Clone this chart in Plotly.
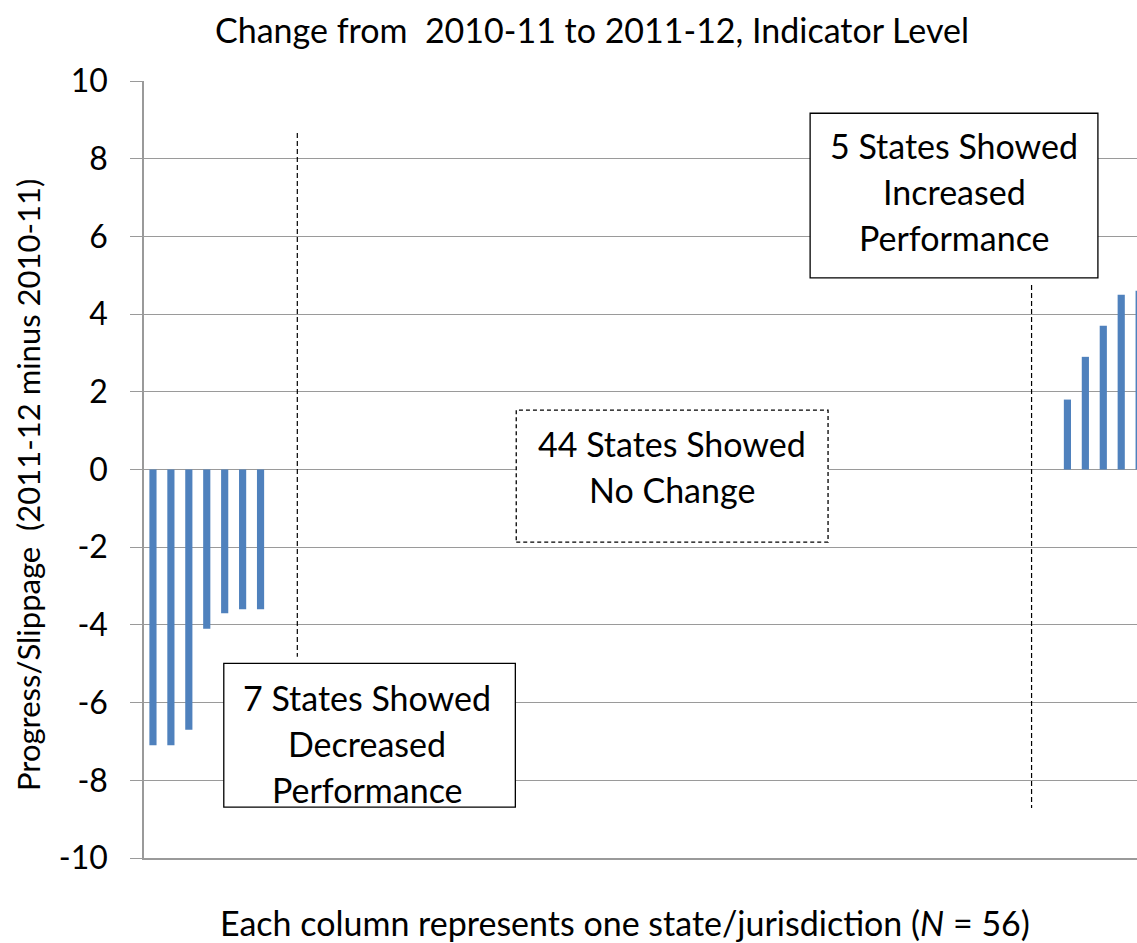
import plotly.graph_objects as go

# values (one column per state/jurisdiction, N = 56)
decreased = [-7.1, -7.1, -6.7, -4.1, -3.7, -3.6, -3.6]
no_change = [0] * 44
increased = [1.8, 2.9, 3.7, 4.5, 4.6]

values = decreased + no_change + increased
columns = list(range(len(values)))

y_tick_vals = [-10, -8, -6, -4, -2, 0, 2, 4, 6, 8, 10]
y_tick_labels = ["-10", "-8", "-6", "-4", "-2", "0", "2", "4", "6", "8", "10"]

title_text = "Change from  2010-11 to 2011-12, Indicator Level"
y_title = "Progress/Slippage  (2011-12 minus 2010-11)"
x_title = "Each column represents one state/jurisdiction (<i>N</i> = 56)"

FONT = "Lato, 'Open Sans', sans-serif"
GRID = "#9a9a9a"
BLUE = "#4F81BD"

# plot area in pixels (used to convert paper positions)
L, R, T, B = 144, 1137, 81, 858


def px(x):
    return (x - L) / (R - L)


def py(y):
    return (B - y) / (B - T)


fig = go.Figure()
fig.add_trace(go.Bar(x=columns, y=values, marker_color=BLUE, marker_line_width=0,
                     width=0.4, hoverinfo="y"))

# dashed separators
for x0, y0, y1 in [(8.05, 8.66, -4.82), (49.0, 4.75, -8.71)]:
    fig.add_shape(type="line", xref="x", yref="y", x0=x0, x1=x0, y0=y0, y1=y1,
                  line=dict(color="black", width=1.2, dash="5px,3px"))

# label boxes
boxes = [
    dict(x0=36.65, x1=52.70, y0=4.93, y1=9.17, dash="solid"),
    dict(x0=20.26, x1=37.65, y0=-1.87, y1=1.53, dash="4px,3px"),
    dict(x0=3.95, x1=20.21, y0=-8.69, y1=-4.99, dash="solid"),
]
for b in boxes:
    fig.add_shape(type="rect", xref="x", yref="y", x0=b["x0"], x1=b["x1"],
                  y0=b["y0"], y1=b["y1"], fillcolor="white",
                  line=dict(color="black", width=1.3, dash=b["dash"]), layer="above")

box_text = [
    (44.68, 7.15, ["5 States Showed", "Increased", "Performance"]),
    (28.96, 0.08, ["44 States Showed", "No Change"]),
    (11.95, -7.04, ["7 States Showed", "Decreased", "Performance"]),
]
for cx, cy, lines in box_text:
    n = len(lines)
    for i, line in enumerate(lines):
        fig.add_annotation(x=cx, y=cy, xref="x", yref="y", text=line, showarrow=False,
                           yshift=(((n - 1) / 2) - i) * 46,
                           font=dict(family=FONT, size=34, color="black"))

fig.add_annotation(x=px(28), y=py(485), xref="paper", yref="paper",
                   text=y_title, textangle=-90, showarrow=False,
                   xanchor="center", yanchor="middle",
                   font=dict(family=FONT, size=31, color="black"))
fig.add_annotation(x=px(625), y=py(922), xref="paper", yref="paper",
                   text=x_title, showarrow=False, xanchor="center", yanchor="middle",
                   font=dict(family=FONT, size=34, color="black"))

fig.update_layout(
    width=1137, height=943,
    margin=dict(l=L, r=1137 - R, t=T, b=943 - B),
    plot_bgcolor="white", paper_bgcolor="white",
    showlegend=False,
    font=dict(family=FONT, color="black"),
    title=dict(text=title_text, xref="container", yref="container",
               x=592 / 1137, y=1 - 31 / 943, xanchor="center", yanchor="middle",
               font=dict(family=FONT, size=34, color="black")),
    xaxis=dict(range=[-0.5, 54.88], showticklabels=False, showgrid=False,
               zeroline=False, showline=True, linecolor=GRID, linewidth=1.5, ticks=""),
    yaxis=dict(range=[-10, 10], tickvals=y_tick_vals, ticktext=y_tick_labels,
               showgrid=True, gridcolor=GRID, gridwidth=1.3, zeroline=False,
               showline=True, linecolor=GRID, linewidth=1.5,
               ticks="outside", ticklen=12, tickcolor=GRID, tickwidth=1.3,
               ticklabelstandoff=16, tickfont=dict(family=FONT, size=32, color="black")),
)

fig.write_html("out.html", config={"displayModeBar": False},
               post_script="document.body.style.margin='0px';")
